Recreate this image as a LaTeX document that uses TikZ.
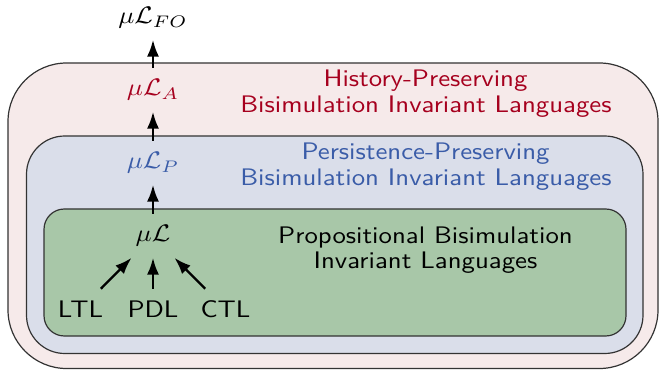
\documentclass[tikz,border=0pt]{standalone}
\usepackage{fontspec}
\usetikzlibrary{arrows.meta}

% slightly widened sans face for all labels
\newfontfamily\labelsf{lmsans10-regular}[Extension=.otf, FakeStretch=1.12]
\newcommand\widen[1]{\scalebox{1.12}[1]{#1}}

\definecolor{histred}{HTML}{A6001E}
\definecolor{persblue}{HTML}{3A5CA8}
\definecolor{histfill}{HTML}{F6EAEA}
\definecolor{persfill}{HTML}{DADEEA}
\definecolor{propfill}{HTML}{A8C7A8}
\definecolor{frame}{HTML}{333333}

\begin{document}
\begin{tikzpicture}[
  x=0.418pt, y=-0.418pt,
  region/.style={draw=frame, line width=0.5pt},
  mathnode/.style={inner sep=0pt, text height=6.83pt, text depth=2pt, anchor=base},
  langnode/.style={inner sep=0pt, text height=6.94pt, text depth=0pt, anchor=base,
    font=\labelsf\fontsize{10}{10.8}\selectfont},
  caption/.style={inner sep=0pt, anchor=base,
    font=\labelsf\fontsize{10}{10.8}\selectfont},
  arr/.style={-{Latex[length=7pt,width=5pt]}, line width=1pt},
  straight/.style={arr, shorten <=4.8pt, shorten >=4.4pt},
  slanted/.style={arr, shorten <=6.9pt, shorten >=6.2pt}
]
\useasboundingbox (0,0) rectangle (659,370);

% nested language classes
\draw[region, fill=histfill, rounded corners=24.5pt] (8,63) rectangle (658,368.5);
\draw[region, fill=persfill, rounded corners=16pt] (26.5,136) rectangle (643,353.5);
\draw[region, fill=propfill, rounded corners=8.5pt] (44,209) rectangle (626,336);

% class captions
\node[caption, text=histred] (hist1) at (425.5,86.7) {History-Preserving};
\node[caption, text=histred] (hist2) at (426,113) {Bisimulation Invariant Languages};
\node[caption, text=persblue] (pers1) at (425.5,160) {Persistence-Preserving};
\node[caption, text=persblue] (pers2) at (426,186) {Bisimulation Invariant Languages};
\node[caption] (prop1) at (425.5,243.3) {Propositional Bisimulation};
\node[caption] (prop2) at (425.5,268.6) {Invariant Languages};

% logics
\node[mathnode] (fo) at (153,24) {\widen{$\mu\mathcal{L}_{FO}$}};
\node[mathnode, text=histred] (mua) at (153,96) {\widen{$\mu\mathcal{L}_{A}$}};
\node[mathnode, text=persblue] (mup) at (153,169) {\widen{$\mu\mathcal{L}_{P}$}};
\node[mathnode] (mul) at (153,242) {\widen{$\mu\mathcal{L}$}};
\node[langnode] (ltl) at (80.5,317.5) {LTL};
\node[langnode] (pdl) at (153,317.5) {PDL};
\node[langnode] (ctl) at (225.5,317.5) {CTL};

% inclusions
\draw[straight] (mua) -- (fo);
\draw[straight] (mup) -- (mua);
\draw[straight] (mul) -- (mup);
\draw[straight] (pdl) -- (mul);
\draw[slanted] (ltl) -- (mul);
\draw[slanted] (ctl) -- (mul);
\end{tikzpicture}
\end{document}
